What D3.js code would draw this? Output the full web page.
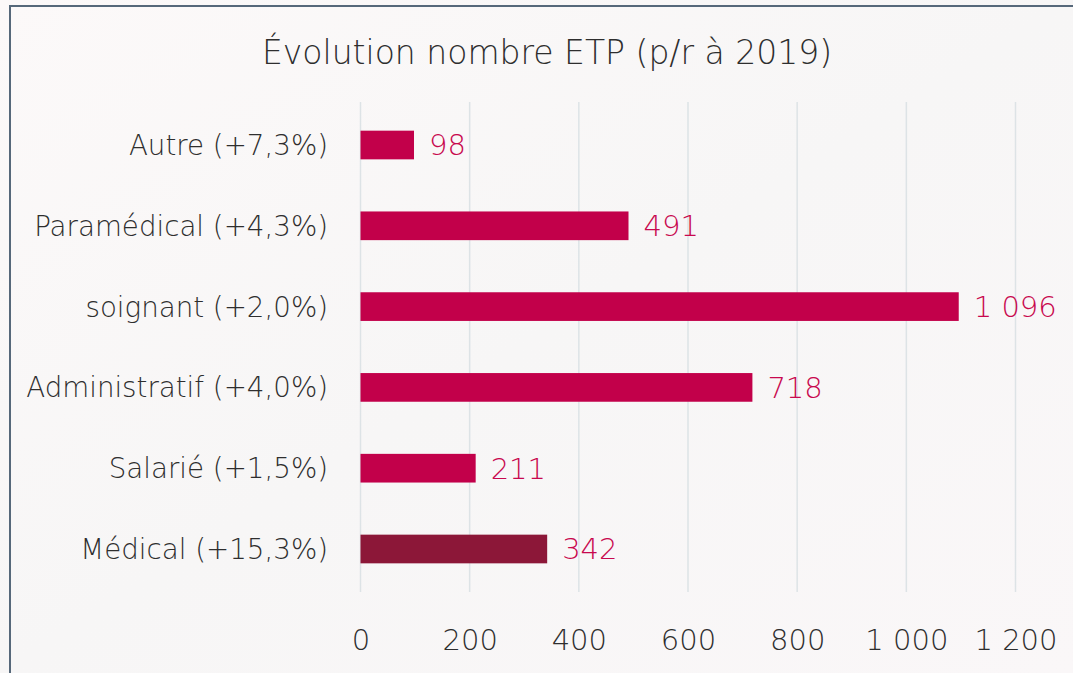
<!DOCTYPE html>
<html><head><meta charset="utf-8">
<script src="https://cdn.jsdelivr.net/npm/d3@7"></script>
<style>
html,body{margin:0;padding:0;background:#f8f6f6;}
svg{display:block;}
text{font-family:"DejaVu Sans",sans-serif;font-weight:300;}
</style></head>
<body><svg id="c" width="1073" height="673"></svg>
<script>
const title = "Évolution nombre ETP (p/r à 2019)";
const categories = ["Autre (+7,3%)","Paramédical (+4,3%)","soignant (+2,0%)","Administratif (+4,0%)","Salarié (+1,5%)","Médical (+15,3%)"];
const values = [98, 491, 1096, 718, 211, 342];
const valueLabels = ["98","491","1 096","718","211","342"];
const tickValues = [0,200,400,600,800,1000,1200];
const tickLabels = ["0","200","400","600","800","1 000","1 200"];
const barColors = ["#c2004a","#c2004a","#c2004a","#c2004a","#c2004a","#8c1738"];

const svg = d3.select("#c");
const defs = svg.append("defs");
const g1 = defs.append("linearGradient").attr("id","bg").attr("x1","0").attr("y1","0").attr("x2","1").attr("y2","1");
g1.append("stop").attr("offset","0").attr("stop-color","#fcf9f9");
g1.append("stop").attr("offset","0.5").attr("stop-color","#f7f6f6");
g1.append("stop").attr("offset","1").attr("stop-color","#faf7f8");
svg.append("rect").attr("width",1073).attr("height",673).attr("fill","url(#bg)");
// frame
svg.append("path").attr("d","M10,673 V6 H1073").attr("fill","none").attr("stroke","#56687a").attr("stroke-width",2);

const x = d3.scaleLinear().domain([0,1200]).range([360.5,1015.5]);
const y = d3.scaleBand().domain(categories).range([104,590]).paddingInner(0.645).paddingOuter(0.33);

// gridlines
svg.append("g").selectAll("line").data(tickValues).join("line")
  .attr("x1",d=>x(d)).attr("x2",d=>x(d)).attr("y1",102).attr("y2",592)
  .attr("stroke","#dde3e6").attr("stroke-width",1.5);

// title
svg.append("text").attr("x",547).attr("y",64).attr("text-anchor","middle")
  .attr("font-size",33).attr("fill","#2e2e2e").text(title);

// bars
svg.append("g").selectAll("rect").data(values).join("rect")
  .attr("x",x(0)).attr("y",(d,i)=>y(categories[i]))
  .attr("width",d=>x(d)-x(0)).attr("height",y.bandwidth())
  .attr("fill",(d,i)=>barColors[i]);

// value labels
svg.append("g").selectAll("text").data(values).join("text")
  .attr("x",d=>x(d)+15).attr("y",(d,i)=>y(categories[i])+y.bandwidth()/2)
  .attr("dy","0.36em").attr("font-size",29).attr("fill","#c8084e")
  .text((d,i)=>valueLabels[i]);

// category labels
svg.append("g").selectAll("text").data(categories).join("text")
  .attr("x",328).attr("y",d=>y(d)+y.bandwidth()/2).attr("dy","0.36em")
  .attr("text-anchor","end").attr("font-size",27.7).attr("fill","#2e2e2e").text(d=>d);

// x axis
const xAxis = d3.axisBottom(x).tickValues(tickValues).tickSize(0).tickPadding(0)
  .tickFormat((d,i)=>tickLabels[i]);
const ax = svg.append("g").attr("transform","translate(0,640)").call(xAxis);
ax.select(".domain").remove();
ax.selectAll("text").attr("font-size",29).attr("fill","#2e2e2e").attr("dy","0.36em")
  .style("font-family","'DejaVu Sans',sans-serif").style("font-weight",300);
</script></body></html>
